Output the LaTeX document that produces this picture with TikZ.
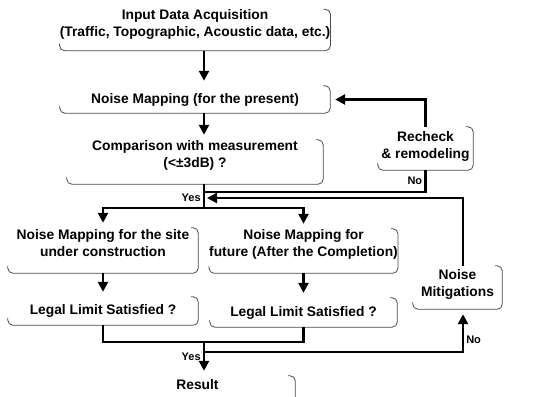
\documentclass[tikz,border=0pt]{standalone}
\usepackage{fontspec}
\setmainfont{Liberation Sans}
\usetikzlibrary{arrows.meta}
\newcommand{\lowpad}[1]{\rule[-#1]{0pt}{#1}}

\begin{document}
\begin{tikzpicture}[
x=1pt,
y=-1pt,
every node/.style={font=\bfseries\fontsize{13.8}{17}\selectfont},
panel/.style={rectangle,align=center,inner sep=0pt},
frame/.style={draw=black!70,line width=0.8pt,rounded corners=5pt},
link/.style={line width=2.6pt},
arr/.style={-{Triangle[length=10pt,width=10pt]},line width=2.6pt,shorten >=5pt},
lbl/.style={font=\bfseries\fontsize{11}{13}\selectfont,inner sep=2pt}
]
\useasboundingbox (0,0) rectangle (550,397);
\clip (0,0) rectangle (550,397);

\node[panel,minimum width=270,minimum height=40] (input) at (195,30) {Input Data Acquisition\\(Traffic, Topographic, Acoustic data, etc.)\lowpad{14pt}};
\node[panel,minimum width=270,minimum height=27] (present) at (195,99.5) {Noise Mapping (for the present)};
\node[panel,minimum width=256,minimum height=44] (compare) at (195,162) {Comparison with measurement\\(<±3dB) ?\lowpad{16pt}};
\node[panel,minimum width=95,minimum height=43] (recheck) at (425.5,148.5) {Recheck\\\& remodeling\lowpad{7pt}};
\node[panel,minimum width=190,minimum height=45] (site) at (103,250.5) {Noise Mapping for the site\\under construction\lowpad{15pt}};
\node[panel,minimum width=187,minimum height=44] (future) at (303.5,251) {Noise Mapping for\\future (After the Completion)\lowpad{16pt}};
\node[panel,minimum width=190,minimum height=28] (legal1) at (103,311) {Legal Limit Satisfied ?};
\node[panel,minimum width=187,minimum height=29] (legal2) at (303.5,312.5) {Legal Limit Satisfied ?};
\node[panel,minimum width=89,minimum height=43] (mitig) at (457.5,287.5) {Noise\\Mitigations\lowpad{9pt}};
\node[panel,minimum width=195,minimum height=40] (result) at (197.5,396) {Result\lowpad{23pt}};

% open frames: bottom and right side only
\foreach \n in {input,present,compare,recheck,site,future,legal1,legal2,mitig,result}
  \draw[frame] ([yshift=7pt]\n.south west) |- (\n.south east) |- ([xshift=-7pt]\n.north east);

\coordinate (spine) at (204,0);
\coordinate (fork) at (204,208);
\coordinate (nojoin) at (204,192);
\coordinate (backjoin) at (202,198);
\coordinate (merge) at (204,342);
\coordinate (nofork) at (204,352);

\draw[arr] (input.south -| spine) -- (present.north -| spine);
\draw[arr] (present.south -| spine) -- (compare.north -| spine);
\draw[link] (compare.south -| spine) -- node[lbl,pos=0.55,left]{Yes} (fork);
\draw[arr] (fork) -| (site.north);
\draw[arr] (fork) -| (future.north);
\draw[link] (recheck.south) |- node[lbl,pos=0.25,left]{No} (nojoin);
\draw[arr] (recheck.north) |- (present.east);
\draw[arr] (site) -- (legal1);
\draw[arr] (future) -- (legal2);
\draw[link] (legal1.south) |- (merge) -| (legal2.south);
\draw[arr] (merge) -- node[lbl,pos=0.45,left]{Yes} (result.north -| spine);
\draw[arr] (nofork) -| node[lbl,pos=0.64,right]{No} ([xshift=5.5pt]mitig.south);
\draw[arr] ([xshift=5.5pt]mitig.north) |- (backjoin);
\end{tikzpicture}
\end{document}
